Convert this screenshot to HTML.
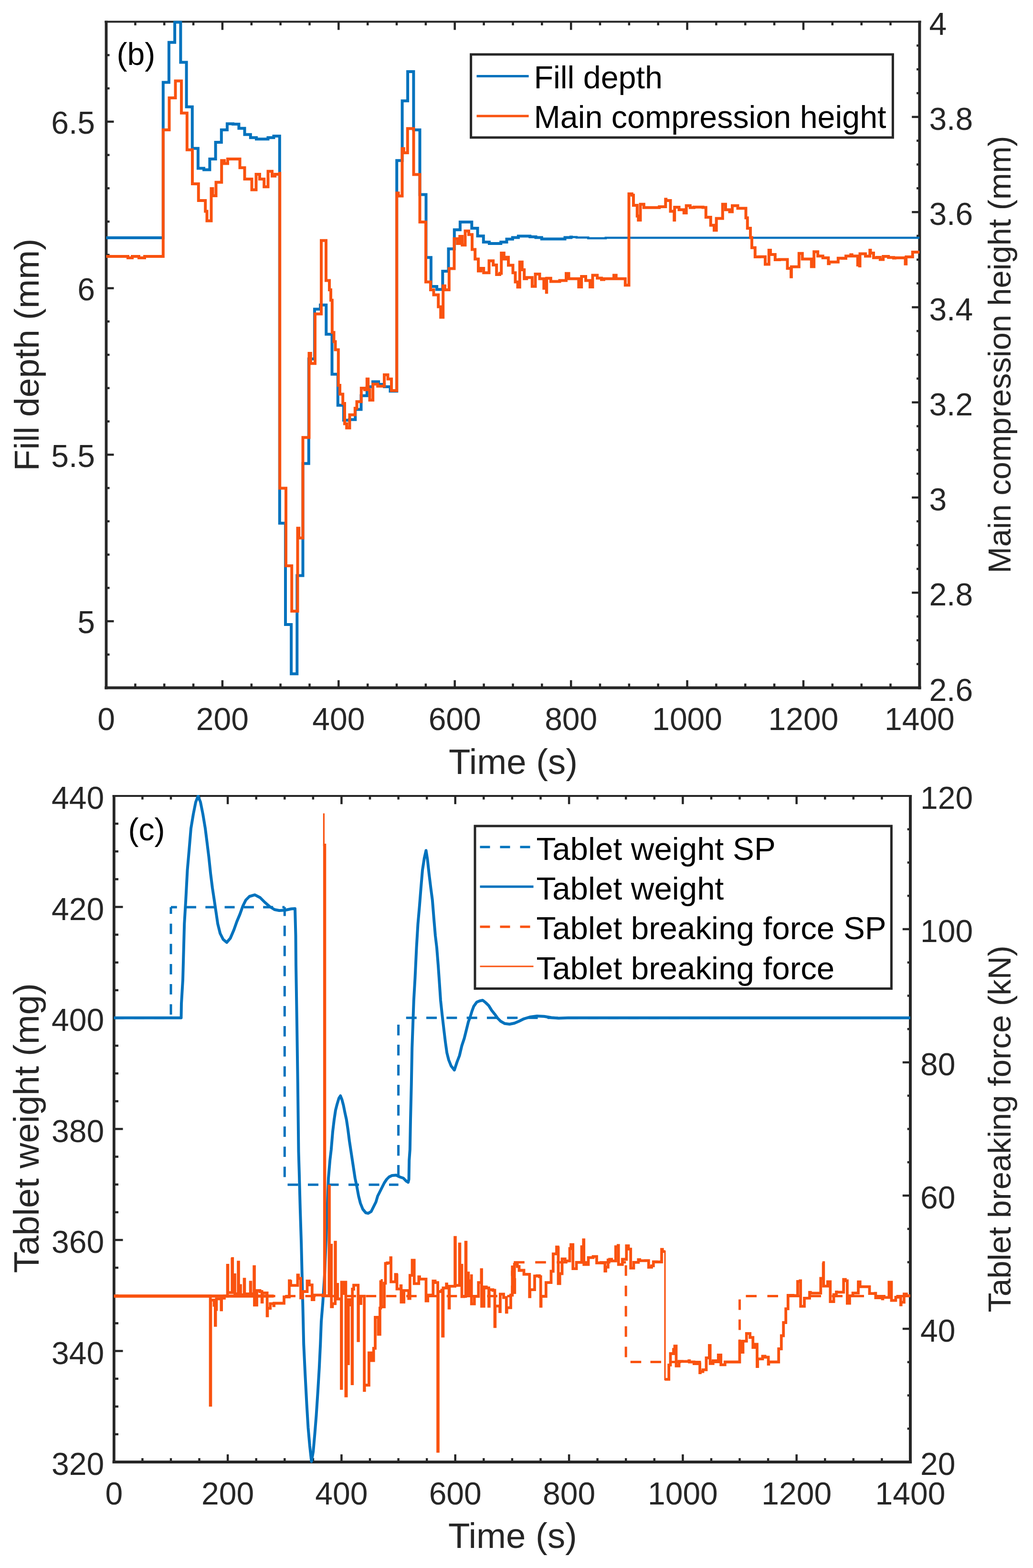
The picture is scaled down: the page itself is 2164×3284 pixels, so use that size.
<!DOCTYPE html>
<html lang="en">
<head>
<meta charset="utf-8">
<title>Fill depth, main compression height, tablet weight and tablet breaking force versus time</title>
<style>
html,body{margin:0;padding:0;background:#ffffff;}
body{width:2164px;height:3284px;overflow:hidden;}
svg{display:block;}
text{white-space:pre;}
</style>
</head>
<body>
<svg width="2164" height="3284" viewBox="0 0 2164 3284" font-family='"Liberation Sans", sans-serif'>
<rect x="0" y="0" width="2164" height="3284" fill="#ffffff"/>
<g id="top-axes">
<line x1="283.4" y1="1440.6" x2="283.4" y2="1431.6" stroke="#262626" stroke-width="4.5" />
<line x1="283.4" y1="45.6" x2="283.4" y2="53.1" stroke="#262626" stroke-width="4.5" />
<line x1="344.2" y1="1440.6" x2="344.2" y2="1431.6" stroke="#262626" stroke-width="4.5" />
<line x1="344.2" y1="45.6" x2="344.2" y2="53.1" stroke="#262626" stroke-width="4.5" />
<line x1="405.1" y1="1440.6" x2="405.1" y2="1431.6" stroke="#262626" stroke-width="4.5" />
<line x1="405.1" y1="45.6" x2="405.1" y2="53.1" stroke="#262626" stroke-width="4.5" />
<line x1="465.9" y1="1440.6" x2="465.9" y2="1424.6" stroke="#262626" stroke-width="4.5" />
<line x1="465.9" y1="45.6" x2="465.9" y2="62.6" stroke="#262626" stroke-width="4.5" />
<line x1="526.8" y1="1440.6" x2="526.8" y2="1431.6" stroke="#262626" stroke-width="4.5" />
<line x1="526.8" y1="45.6" x2="526.8" y2="53.1" stroke="#262626" stroke-width="4.5" />
<line x1="587.6" y1="1440.6" x2="587.6" y2="1431.6" stroke="#262626" stroke-width="4.5" />
<line x1="587.6" y1="45.6" x2="587.6" y2="53.1" stroke="#262626" stroke-width="4.5" />
<line x1="648.5" y1="1440.6" x2="648.5" y2="1431.6" stroke="#262626" stroke-width="4.5" />
<line x1="648.5" y1="45.6" x2="648.5" y2="53.1" stroke="#262626" stroke-width="4.5" />
<line x1="709.3" y1="1440.6" x2="709.3" y2="1424.6" stroke="#262626" stroke-width="4.5" />
<line x1="709.3" y1="45.6" x2="709.3" y2="62.6" stroke="#262626" stroke-width="4.5" />
<line x1="770.2" y1="1440.6" x2="770.2" y2="1431.6" stroke="#262626" stroke-width="4.5" />
<line x1="770.2" y1="45.6" x2="770.2" y2="53.1" stroke="#262626" stroke-width="4.5" />
<line x1="831.0" y1="1440.6" x2="831.0" y2="1431.6" stroke="#262626" stroke-width="4.5" />
<line x1="831.0" y1="45.6" x2="831.0" y2="53.1" stroke="#262626" stroke-width="4.5" />
<line x1="891.9" y1="1440.6" x2="891.9" y2="1431.6" stroke="#262626" stroke-width="4.5" />
<line x1="891.9" y1="45.6" x2="891.9" y2="53.1" stroke="#262626" stroke-width="4.5" />
<line x1="952.7" y1="1440.6" x2="952.7" y2="1424.6" stroke="#262626" stroke-width="4.5" />
<line x1="952.7" y1="45.6" x2="952.7" y2="62.6" stroke="#262626" stroke-width="4.5" />
<line x1="1013.6" y1="1440.6" x2="1013.6" y2="1431.6" stroke="#262626" stroke-width="4.5" />
<line x1="1013.6" y1="45.6" x2="1013.6" y2="53.1" stroke="#262626" stroke-width="4.5" />
<line x1="1074.5" y1="1440.6" x2="1074.5" y2="1431.6" stroke="#262626" stroke-width="4.5" />
<line x1="1074.5" y1="45.6" x2="1074.5" y2="53.1" stroke="#262626" stroke-width="4.5" />
<line x1="1135.3" y1="1440.6" x2="1135.3" y2="1431.6" stroke="#262626" stroke-width="4.5" />
<line x1="1135.3" y1="45.6" x2="1135.3" y2="53.1" stroke="#262626" stroke-width="4.5" />
<line x1="1196.2" y1="1440.6" x2="1196.2" y2="1424.6" stroke="#262626" stroke-width="4.5" />
<line x1="1196.2" y1="45.6" x2="1196.2" y2="62.6" stroke="#262626" stroke-width="4.5" />
<line x1="1257.0" y1="1440.6" x2="1257.0" y2="1431.6" stroke="#262626" stroke-width="4.5" />
<line x1="1257.0" y1="45.6" x2="1257.0" y2="53.1" stroke="#262626" stroke-width="4.5" />
<line x1="1317.9" y1="1440.6" x2="1317.9" y2="1431.6" stroke="#262626" stroke-width="4.5" />
<line x1="1317.9" y1="45.6" x2="1317.9" y2="53.1" stroke="#262626" stroke-width="4.5" />
<line x1="1378.7" y1="1440.6" x2="1378.7" y2="1431.6" stroke="#262626" stroke-width="4.5" />
<line x1="1378.7" y1="45.6" x2="1378.7" y2="53.1" stroke="#262626" stroke-width="4.5" />
<line x1="1439.6" y1="1440.6" x2="1439.6" y2="1424.6" stroke="#262626" stroke-width="4.5" />
<line x1="1439.6" y1="45.6" x2="1439.6" y2="62.6" stroke="#262626" stroke-width="4.5" />
<line x1="1500.4" y1="1440.6" x2="1500.4" y2="1431.6" stroke="#262626" stroke-width="4.5" />
<line x1="1500.4" y1="45.6" x2="1500.4" y2="53.1" stroke="#262626" stroke-width="4.5" />
<line x1="1561.3" y1="1440.6" x2="1561.3" y2="1431.6" stroke="#262626" stroke-width="4.5" />
<line x1="1561.3" y1="45.6" x2="1561.3" y2="53.1" stroke="#262626" stroke-width="4.5" />
<line x1="1622.1" y1="1440.6" x2="1622.1" y2="1431.6" stroke="#262626" stroke-width="4.5" />
<line x1="1622.1" y1="45.6" x2="1622.1" y2="53.1" stroke="#262626" stroke-width="4.5" />
<line x1="1683.0" y1="1440.6" x2="1683.0" y2="1424.6" stroke="#262626" stroke-width="4.5" />
<line x1="1683.0" y1="45.6" x2="1683.0" y2="62.6" stroke="#262626" stroke-width="4.5" />
<line x1="1743.8" y1="1440.6" x2="1743.8" y2="1431.6" stroke="#262626" stroke-width="4.5" />
<line x1="1743.8" y1="45.6" x2="1743.8" y2="53.1" stroke="#262626" stroke-width="4.5" />
<line x1="1804.7" y1="1440.6" x2="1804.7" y2="1431.6" stroke="#262626" stroke-width="4.5" />
<line x1="1804.7" y1="45.6" x2="1804.7" y2="53.1" stroke="#262626" stroke-width="4.5" />
<line x1="1865.5" y1="1440.6" x2="1865.5" y2="1431.6" stroke="#262626" stroke-width="4.5" />
<line x1="1865.5" y1="45.6" x2="1865.5" y2="53.1" stroke="#262626" stroke-width="4.5" />
<text x="222.5" y="1528.6" font-size="66" text-anchor="middle" fill="#262626" >0</text>
<text x="465.9" y="1528.6" font-size="66" text-anchor="middle" fill="#262626" >200</text>
<text x="709.3" y="1528.6" font-size="66" text-anchor="middle" fill="#262626" >400</text>
<text x="952.7" y="1528.6" font-size="66" text-anchor="middle" fill="#262626" >600</text>
<text x="1196.2" y="1528.6" font-size="66" text-anchor="middle" fill="#262626" >800</text>
<text x="1439.6" y="1528.6" font-size="66" text-anchor="middle" fill="#262626" >1000</text>
<text x="1683.0" y="1528.6" font-size="66" text-anchor="middle" fill="#262626" >1200</text>
<text x="1926.4" y="1528.6" font-size="66" text-anchor="middle" fill="#262626" >1400</text>
<line x1="222.5" y1="1370.9" x2="229.5" y2="1370.9" stroke="#262626" stroke-width="4.5" />
<line x1="222.5" y1="1301.1" x2="238.5" y2="1301.1" stroke="#262626" stroke-width="4.5" />
<text x="199.0" y="1326.4" font-size="66" text-anchor="end" fill="#262626" >5</text>
<line x1="222.5" y1="1231.3" x2="229.5" y2="1231.3" stroke="#262626" stroke-width="4.5" />
<line x1="222.5" y1="1161.6" x2="229.5" y2="1161.6" stroke="#262626" stroke-width="4.5" />
<line x1="222.5" y1="1091.8" x2="229.5" y2="1091.8" stroke="#262626" stroke-width="4.5" />
<line x1="222.5" y1="1022.1" x2="229.5" y2="1022.1" stroke="#262626" stroke-width="4.5" />
<line x1="222.5" y1="952.3" x2="238.5" y2="952.3" stroke="#262626" stroke-width="4.5" />
<text x="199.0" y="977.6" font-size="66" text-anchor="end" fill="#262626" >5.5</text>
<line x1="222.5" y1="882.6" x2="229.5" y2="882.6" stroke="#262626" stroke-width="4.5" />
<line x1="222.5" y1="812.8" x2="229.5" y2="812.8" stroke="#262626" stroke-width="4.5" />
<line x1="222.5" y1="743.1" x2="229.5" y2="743.1" stroke="#262626" stroke-width="4.5" />
<line x1="222.5" y1="673.3" x2="229.5" y2="673.3" stroke="#262626" stroke-width="4.5" />
<line x1="222.5" y1="603.6" x2="238.5" y2="603.6" stroke="#262626" stroke-width="4.5" />
<text x="199.0" y="628.9" font-size="66" text-anchor="end" fill="#262626" >6</text>
<line x1="222.5" y1="533.9" x2="229.5" y2="533.9" stroke="#262626" stroke-width="4.5" />
<line x1="222.5" y1="464.1" x2="229.5" y2="464.1" stroke="#262626" stroke-width="4.5" />
<line x1="222.5" y1="394.3" x2="229.5" y2="394.3" stroke="#262626" stroke-width="4.5" />
<line x1="222.5" y1="324.6" x2="229.5" y2="324.6" stroke="#262626" stroke-width="4.5" />
<line x1="222.5" y1="254.8" x2="238.5" y2="254.8" stroke="#262626" stroke-width="4.5" />
<text x="199.0" y="280.1" font-size="66" text-anchor="end" fill="#262626" >6.5</text>
<line x1="222.5" y1="185.1" x2="229.5" y2="185.1" stroke="#262626" stroke-width="4.5" />
<line x1="222.5" y1="115.4" x2="229.5" y2="115.4" stroke="#262626" stroke-width="4.5" />
<text x="1946.4" y="1467.6" font-size="66" text-anchor="start" fill="#262626" >2.6</text>
<line x1="1926.4" y1="1390.8" x2="1920.1" y2="1390.8" stroke="#262626" stroke-width="4.5" />
<line x1="1926.4" y1="1341.0" x2="1920.1" y2="1341.0" stroke="#262626" stroke-width="4.5" />
<line x1="1926.4" y1="1291.1" x2="1920.1" y2="1291.1" stroke="#262626" stroke-width="4.5" />
<line x1="1926.4" y1="1241.3" x2="1910.2" y2="1241.3" stroke="#262626" stroke-width="4.5" />
<text x="1946.4" y="1268.3" font-size="66" text-anchor="start" fill="#262626" >2.8</text>
<line x1="1926.4" y1="1191.5" x2="1920.1" y2="1191.5" stroke="#262626" stroke-width="4.5" />
<line x1="1926.4" y1="1141.7" x2="1920.1" y2="1141.7" stroke="#262626" stroke-width="4.5" />
<line x1="1926.4" y1="1091.8" x2="1920.1" y2="1091.8" stroke="#262626" stroke-width="4.5" />
<line x1="1926.4" y1="1042.0" x2="1910.2" y2="1042.0" stroke="#262626" stroke-width="4.5" />
<text x="1946.4" y="1069.0" font-size="66" text-anchor="start" fill="#262626" >3</text>
<line x1="1926.4" y1="992.2" x2="1920.1" y2="992.2" stroke="#262626" stroke-width="4.5" />
<line x1="1926.4" y1="942.4" x2="1920.1" y2="942.4" stroke="#262626" stroke-width="4.5" />
<line x1="1926.4" y1="892.6" x2="1920.1" y2="892.6" stroke="#262626" stroke-width="4.5" />
<line x1="1926.4" y1="842.7" x2="1910.2" y2="842.7" stroke="#262626" stroke-width="4.5" />
<text x="1946.4" y="869.7" font-size="66" text-anchor="start" fill="#262626" >3.2</text>
<line x1="1926.4" y1="792.9" x2="1920.1" y2="792.9" stroke="#262626" stroke-width="4.5" />
<line x1="1926.4" y1="743.1" x2="1920.1" y2="743.1" stroke="#262626" stroke-width="4.5" />
<line x1="1926.4" y1="693.3" x2="1920.1" y2="693.3" stroke="#262626" stroke-width="4.5" />
<line x1="1926.4" y1="643.5" x2="1910.2" y2="643.5" stroke="#262626" stroke-width="4.5" />
<text x="1946.4" y="670.5" font-size="66" text-anchor="start" fill="#262626" >3.4</text>
<line x1="1926.4" y1="593.6" x2="1920.1" y2="593.6" stroke="#262626" stroke-width="4.5" />
<line x1="1926.4" y1="543.8" x2="1920.1" y2="543.8" stroke="#262626" stroke-width="4.5" />
<line x1="1926.4" y1="494.0" x2="1920.1" y2="494.0" stroke="#262626" stroke-width="4.5" />
<line x1="1926.4" y1="444.2" x2="1910.2" y2="444.2" stroke="#262626" stroke-width="4.5" />
<text x="1946.4" y="471.2" font-size="66" text-anchor="start" fill="#262626" >3.6</text>
<line x1="1926.4" y1="394.3" x2="1920.1" y2="394.3" stroke="#262626" stroke-width="4.5" />
<line x1="1926.4" y1="344.5" x2="1920.1" y2="344.5" stroke="#262626" stroke-width="4.5" />
<line x1="1926.4" y1="294.7" x2="1920.1" y2="294.7" stroke="#262626" stroke-width="4.5" />
<line x1="1926.4" y1="244.9" x2="1910.2" y2="244.9" stroke="#262626" stroke-width="4.5" />
<text x="1946.4" y="271.9" font-size="66" text-anchor="start" fill="#262626" >3.8</text>
<line x1="1926.4" y1="195.1" x2="1920.1" y2="195.1" stroke="#262626" stroke-width="4.5" />
<line x1="1926.4" y1="145.2" x2="1920.1" y2="145.2" stroke="#262626" stroke-width="4.5" />
<line x1="1926.4" y1="95.4" x2="1920.1" y2="95.4" stroke="#262626" stroke-width="4.5" />
<text x="1946.4" y="72.6" font-size="66" text-anchor="start" fill="#262626" >4</text>
<line x1="219.3" y1="45.6" x2="1929.6" y2="45.6" stroke="#262626" stroke-width="4" />
<line x1="219.3" y1="1440.6" x2="1929.6" y2="1440.6" stroke="#262626" stroke-width="6" />
<line x1="222.5" y1="43.6" x2="222.5" y2="1443.6" stroke="#262626" stroke-width="5.8" />
<line x1="1926.4" y1="43.6" x2="1926.4" y2="1443.6" stroke="#262626" stroke-width="6" />
</g>
<g id="bottom-axes">
<line x1="298.4" y1="3062.0" x2="298.4" y2="3054.0" stroke="#262626" stroke-width="4.5" />
<line x1="298.4" y1="1667.0" x2="298.4" y2="1674.5" stroke="#262626" stroke-width="4.5" />
<line x1="358.0" y1="3062.0" x2="358.0" y2="3054.0" stroke="#262626" stroke-width="4.5" />
<line x1="358.0" y1="1667.0" x2="358.0" y2="1674.5" stroke="#262626" stroke-width="4.5" />
<line x1="417.5" y1="3062.0" x2="417.5" y2="3054.0" stroke="#262626" stroke-width="4.5" />
<line x1="417.5" y1="1667.0" x2="417.5" y2="1674.5" stroke="#262626" stroke-width="4.5" />
<line x1="477.1" y1="3062.0" x2="477.1" y2="3046.0" stroke="#262626" stroke-width="4.5" />
<line x1="477.1" y1="1667.0" x2="477.1" y2="1684.2" stroke="#262626" stroke-width="4.5" />
<line x1="536.7" y1="3062.0" x2="536.7" y2="3054.0" stroke="#262626" stroke-width="4.5" />
<line x1="536.7" y1="1667.0" x2="536.7" y2="1674.5" stroke="#262626" stroke-width="4.5" />
<line x1="596.3" y1="3062.0" x2="596.3" y2="3054.0" stroke="#262626" stroke-width="4.5" />
<line x1="596.3" y1="1667.0" x2="596.3" y2="1674.5" stroke="#262626" stroke-width="4.5" />
<line x1="655.9" y1="3062.0" x2="655.9" y2="3054.0" stroke="#262626" stroke-width="4.5" />
<line x1="655.9" y1="1667.0" x2="655.9" y2="1674.5" stroke="#262626" stroke-width="4.5" />
<line x1="715.4" y1="3062.0" x2="715.4" y2="3046.0" stroke="#262626" stroke-width="4.5" />
<line x1="715.4" y1="1667.0" x2="715.4" y2="1684.2" stroke="#262626" stroke-width="4.5" />
<line x1="775.0" y1="3062.0" x2="775.0" y2="3054.0" stroke="#262626" stroke-width="4.5" />
<line x1="775.0" y1="1667.0" x2="775.0" y2="1674.5" stroke="#262626" stroke-width="4.5" />
<line x1="834.6" y1="3062.0" x2="834.6" y2="3054.0" stroke="#262626" stroke-width="4.5" />
<line x1="834.6" y1="1667.0" x2="834.6" y2="1674.5" stroke="#262626" stroke-width="4.5" />
<line x1="894.2" y1="3062.0" x2="894.2" y2="3054.0" stroke="#262626" stroke-width="4.5" />
<line x1="894.2" y1="1667.0" x2="894.2" y2="1674.5" stroke="#262626" stroke-width="4.5" />
<line x1="953.7" y1="3062.0" x2="953.7" y2="3046.0" stroke="#262626" stroke-width="4.5" />
<line x1="953.7" y1="1667.0" x2="953.7" y2="1684.2" stroke="#262626" stroke-width="4.5" />
<line x1="1013.3" y1="3062.0" x2="1013.3" y2="3054.0" stroke="#262626" stroke-width="4.5" />
<line x1="1013.3" y1="1667.0" x2="1013.3" y2="1674.5" stroke="#262626" stroke-width="4.5" />
<line x1="1072.9" y1="3062.0" x2="1072.9" y2="3054.0" stroke="#262626" stroke-width="4.5" />
<line x1="1072.9" y1="1667.0" x2="1072.9" y2="1674.5" stroke="#262626" stroke-width="4.5" />
<line x1="1132.5" y1="3062.0" x2="1132.5" y2="3054.0" stroke="#262626" stroke-width="4.5" />
<line x1="1132.5" y1="1667.0" x2="1132.5" y2="1674.5" stroke="#262626" stroke-width="4.5" />
<line x1="1192.1" y1="3062.0" x2="1192.1" y2="3046.0" stroke="#262626" stroke-width="4.5" />
<line x1="1192.1" y1="1667.0" x2="1192.1" y2="1684.2" stroke="#262626" stroke-width="4.5" />
<line x1="1251.6" y1="3062.0" x2="1251.6" y2="3054.0" stroke="#262626" stroke-width="4.5" />
<line x1="1251.6" y1="1667.0" x2="1251.6" y2="1674.5" stroke="#262626" stroke-width="4.5" />
<line x1="1311.2" y1="3062.0" x2="1311.2" y2="3054.0" stroke="#262626" stroke-width="4.5" />
<line x1="1311.2" y1="1667.0" x2="1311.2" y2="1674.5" stroke="#262626" stroke-width="4.5" />
<line x1="1370.8" y1="3062.0" x2="1370.8" y2="3054.0" stroke="#262626" stroke-width="4.5" />
<line x1="1370.8" y1="1667.0" x2="1370.8" y2="1674.5" stroke="#262626" stroke-width="4.5" />
<line x1="1430.4" y1="3062.0" x2="1430.4" y2="3046.0" stroke="#262626" stroke-width="4.5" />
<line x1="1430.4" y1="1667.0" x2="1430.4" y2="1684.2" stroke="#262626" stroke-width="4.5" />
<line x1="1490.0" y1="3062.0" x2="1490.0" y2="3054.0" stroke="#262626" stroke-width="4.5" />
<line x1="1490.0" y1="1667.0" x2="1490.0" y2="1674.5" stroke="#262626" stroke-width="4.5" />
<line x1="1549.5" y1="3062.0" x2="1549.5" y2="3054.0" stroke="#262626" stroke-width="4.5" />
<line x1="1549.5" y1="1667.0" x2="1549.5" y2="1674.5" stroke="#262626" stroke-width="4.5" />
<line x1="1609.1" y1="3062.0" x2="1609.1" y2="3054.0" stroke="#262626" stroke-width="4.5" />
<line x1="1609.1" y1="1667.0" x2="1609.1" y2="1674.5" stroke="#262626" stroke-width="4.5" />
<line x1="1668.7" y1="3062.0" x2="1668.7" y2="3046.0" stroke="#262626" stroke-width="4.5" />
<line x1="1668.7" y1="1667.0" x2="1668.7" y2="1684.2" stroke="#262626" stroke-width="4.5" />
<line x1="1728.3" y1="3062.0" x2="1728.3" y2="3054.0" stroke="#262626" stroke-width="4.5" />
<line x1="1728.3" y1="1667.0" x2="1728.3" y2="1674.5" stroke="#262626" stroke-width="4.5" />
<line x1="1787.8" y1="3062.0" x2="1787.8" y2="3054.0" stroke="#262626" stroke-width="4.5" />
<line x1="1787.8" y1="1667.0" x2="1787.8" y2="1674.5" stroke="#262626" stroke-width="4.5" />
<line x1="1847.4" y1="3062.0" x2="1847.4" y2="3054.0" stroke="#262626" stroke-width="4.5" />
<line x1="1847.4" y1="1667.0" x2="1847.4" y2="1674.5" stroke="#262626" stroke-width="4.5" />
<text x="238.8" y="3151.0" font-size="66" text-anchor="middle" fill="#262626" >0</text>
<text x="477.1" y="3151.0" font-size="66" text-anchor="middle" fill="#262626" >200</text>
<text x="715.4" y="3151.0" font-size="66" text-anchor="middle" fill="#262626" >400</text>
<text x="953.7" y="3151.0" font-size="66" text-anchor="middle" fill="#262626" >600</text>
<text x="1192.1" y="3151.0" font-size="66" text-anchor="middle" fill="#262626" >800</text>
<text x="1430.4" y="3151.0" font-size="66" text-anchor="middle" fill="#262626" >1000</text>
<text x="1668.7" y="3151.0" font-size="66" text-anchor="middle" fill="#262626" >1200</text>
<text x="1907.0" y="3151.0" font-size="66" text-anchor="middle" fill="#262626" >1400</text>
<text x="218.1" y="3089.0" font-size="66" text-anchor="end" fill="#262626" >320</text>
<line x1="238.8" y1="3003.9" x2="248.0" y2="3003.9" stroke="#262626" stroke-width="4.5" />
<line x1="238.8" y1="2945.8" x2="248.0" y2="2945.8" stroke="#262626" stroke-width="4.5" />
<line x1="238.8" y1="2887.6" x2="248.0" y2="2887.6" stroke="#262626" stroke-width="4.5" />
<line x1="238.8" y1="2829.5" x2="257.5" y2="2829.5" stroke="#262626" stroke-width="4.5" />
<text x="218.1" y="2856.5" font-size="66" text-anchor="end" fill="#262626" >340</text>
<line x1="238.8" y1="2771.4" x2="248.0" y2="2771.4" stroke="#262626" stroke-width="4.5" />
<line x1="238.8" y1="2713.2" x2="248.0" y2="2713.2" stroke="#262626" stroke-width="4.5" />
<line x1="238.8" y1="2655.1" x2="248.0" y2="2655.1" stroke="#262626" stroke-width="4.5" />
<line x1="238.8" y1="2597.0" x2="257.5" y2="2597.0" stroke="#262626" stroke-width="4.5" />
<text x="218.1" y="2624.0" font-size="66" text-anchor="end" fill="#262626" >360</text>
<line x1="238.8" y1="2538.9" x2="248.0" y2="2538.9" stroke="#262626" stroke-width="4.5" />
<line x1="238.8" y1="2480.8" x2="248.0" y2="2480.8" stroke="#262626" stroke-width="4.5" />
<line x1="238.8" y1="2422.6" x2="248.0" y2="2422.6" stroke="#262626" stroke-width="4.5" />
<line x1="238.8" y1="2364.5" x2="257.5" y2="2364.5" stroke="#262626" stroke-width="4.5" />
<text x="218.1" y="2391.5" font-size="66" text-anchor="end" fill="#262626" >380</text>
<line x1="238.8" y1="2306.4" x2="248.0" y2="2306.4" stroke="#262626" stroke-width="4.5" />
<line x1="238.8" y1="2248.2" x2="248.0" y2="2248.2" stroke="#262626" stroke-width="4.5" />
<line x1="238.8" y1="2190.1" x2="248.0" y2="2190.1" stroke="#262626" stroke-width="4.5" />
<line x1="238.8" y1="2132.0" x2="257.5" y2="2132.0" stroke="#262626" stroke-width="4.5" />
<text x="218.1" y="2159.0" font-size="66" text-anchor="end" fill="#262626" >400</text>
<line x1="238.8" y1="2073.9" x2="248.0" y2="2073.9" stroke="#262626" stroke-width="4.5" />
<line x1="238.8" y1="2015.8" x2="248.0" y2="2015.8" stroke="#262626" stroke-width="4.5" />
<line x1="238.8" y1="1957.6" x2="248.0" y2="1957.6" stroke="#262626" stroke-width="4.5" />
<line x1="238.8" y1="1899.5" x2="257.5" y2="1899.5" stroke="#262626" stroke-width="4.5" />
<text x="218.1" y="1926.5" font-size="66" text-anchor="end" fill="#262626" >420</text>
<line x1="238.8" y1="1841.4" x2="248.0" y2="1841.4" stroke="#262626" stroke-width="4.5" />
<line x1="238.8" y1="1783.2" x2="248.0" y2="1783.2" stroke="#262626" stroke-width="4.5" />
<line x1="238.8" y1="1725.1" x2="248.0" y2="1725.1" stroke="#262626" stroke-width="4.5" />
<text x="218.1" y="1694.0" font-size="66" text-anchor="end" fill="#262626" >440</text>
<text x="1928.0" y="3089.0" font-size="66" text-anchor="start" fill="#262626" >20</text>
<line x1="1907.0" y1="2992.2" x2="1900.7" y2="2992.2" stroke="#262626" stroke-width="4.5" />
<line x1="1907.0" y1="2922.5" x2="1900.7" y2="2922.5" stroke="#262626" stroke-width="4.5" />
<line x1="1907.0" y1="2852.8" x2="1900.7" y2="2852.8" stroke="#262626" stroke-width="4.5" />
<line x1="1907.0" y1="2783.0" x2="1890.8" y2="2783.0" stroke="#262626" stroke-width="4.5" />
<text x="1928.0" y="2810.0" font-size="66" text-anchor="start" fill="#262626" >40</text>
<line x1="1907.0" y1="2713.2" x2="1900.7" y2="2713.2" stroke="#262626" stroke-width="4.5" />
<line x1="1907.0" y1="2643.5" x2="1900.7" y2="2643.5" stroke="#262626" stroke-width="4.5" />
<line x1="1907.0" y1="2573.8" x2="1900.7" y2="2573.8" stroke="#262626" stroke-width="4.5" />
<line x1="1907.0" y1="2504.0" x2="1890.8" y2="2504.0" stroke="#262626" stroke-width="4.5" />
<text x="1928.0" y="2531.0" font-size="66" text-anchor="start" fill="#262626" >60</text>
<line x1="1907.0" y1="2434.2" x2="1900.7" y2="2434.2" stroke="#262626" stroke-width="4.5" />
<line x1="1907.0" y1="2364.5" x2="1900.7" y2="2364.5" stroke="#262626" stroke-width="4.5" />
<line x1="1907.0" y1="2294.8" x2="1900.7" y2="2294.8" stroke="#262626" stroke-width="4.5" />
<line x1="1907.0" y1="2225.0" x2="1890.8" y2="2225.0" stroke="#262626" stroke-width="4.5" />
<text x="1928.0" y="2252.0" font-size="66" text-anchor="start" fill="#262626" >80</text>
<line x1="1907.0" y1="2155.2" x2="1900.7" y2="2155.2" stroke="#262626" stroke-width="4.5" />
<line x1="1907.0" y1="2085.5" x2="1900.7" y2="2085.5" stroke="#262626" stroke-width="4.5" />
<line x1="1907.0" y1="2015.8" x2="1900.7" y2="2015.8" stroke="#262626" stroke-width="4.5" />
<line x1="1907.0" y1="1946.0" x2="1890.8" y2="1946.0" stroke="#262626" stroke-width="4.5" />
<text x="1928.0" y="1973.0" font-size="66" text-anchor="start" fill="#262626" >100</text>
<line x1="1907.0" y1="1876.2" x2="1900.7" y2="1876.2" stroke="#262626" stroke-width="4.5" />
<line x1="1907.0" y1="1806.5" x2="1900.7" y2="1806.5" stroke="#262626" stroke-width="4.5" />
<line x1="1907.0" y1="1736.8" x2="1900.7" y2="1736.8" stroke="#262626" stroke-width="4.5" />
<text x="1928.0" y="1694.0" font-size="66" text-anchor="start" fill="#262626" >120</text>
<line x1="235.6" y1="1667.0" x2="1910.2" y2="1667.0" stroke="#262626" stroke-width="4" />
<line x1="235.6" y1="3062.0" x2="1910.2" y2="3062.0" stroke="#262626" stroke-width="6" />
<line x1="238.8" y1="1665.0" x2="238.8" y2="3065.0" stroke="#262626" stroke-width="5.8" />
<line x1="1907.0" y1="1665.0" x2="1907.0" y2="3065.0" stroke="#262626" stroke-width="6" />
</g>
<clipPath id="clipT"><rect x="220.5" y="43.6" width="1705.9" height="1399.0"/></clipPath>
<g id="top-curves" clip-path="url(#clipT)">
<path d="M1200.0,496.5 L1207.9,496.5 L1207.9,497.5 L1220.2,497.5 L1220.2,497.5 L1232.3,497.5 L1232.3,499.0 L1244.5,499.0 L1244.5,499.0 L1256.8,499.0 L1256.8,499.0 L1268.9,499.0 L1268.9,498.0 L1926.4,498.0" fill="none" stroke="#0072BD" stroke-width="4.6" stroke-linejoin="miter" />
<path d="M222.5,498.0 L341.8,498.0 L341.8,172.5 L353.9,172.5 L353.9,88.8 L366.1,88.8 L366.1,46.5 L378.4,46.5 L378.4,130.5 L390.6,130.5 L390.6,223.8 L402.8,223.8 L402.8,310.8 L414.9,310.8 L414.9,352.5 L427.1,352.5 L427.1,355.5 L439.4,355.5 L439.4,333.0 L451.6,333.0 L451.6,298.0 L463.8,298.0 L463.8,272.0 L475.9,272.0 L475.9,259.2 L488.1,259.2 L488.1,260.0 L500.4,260.0 L500.4,268.8 L512.5,268.8 L512.5,281.8 L524.8,281.8 L524.8,288.2 L537.0,288.2 L537.0,291.2 L549.1,291.2 L549.1,291.2 L561.4,291.2 L561.4,288.2 L573.5,288.2 L573.5,285.0 L585.8,285.0 L585.8,1095.8 L598.0,1095.8 L598.0,1308.0 L610.1,1308.0 L610.1,1411.2 L622.3,1411.2 L622.3,1205.5 L634.5,1205.5 L634.5,970.8 L646.8,970.8 L646.8,751.8 L659.0,751.8 L659.0,647.5 L671.1,647.5 L671.1,638.8 L683.3,638.8 L683.3,700.0 L695.5,700.0 L695.5,783.8 L707.8,783.8 L707.8,848.8 L720.0,848.8 L720.0,880.0 L732.1,880.0 L732.1,878.8 L744.3,878.8 L744.3,857.5 L756.5,857.5 L756.5,828.8 L768.8,828.8 L768.8,810.0 L781.0,810.0 L781.0,799.5 L793.1,799.5 L793.1,805.0 L805.3,805.0 L805.3,810.0 L817.5,810.0 L817.5,819.2 L831.2,819.2 L831.2,336.2 L842.6,336.2 L842.6,211.2 L854.1,211.2 L854.1,150.0 L866.4,150.0 L866.4,272.0 L879.5,272.0 L879.5,407.5 L892.5,407.5 L892.5,539.2 L902.9,539.2 L902.9,600.0 L915.1,600.0 L915.1,606.2 L927.3,606.2 L927.3,568.0 L939.5,568.0 L939.5,521.2 L951.8,521.2 L951.8,481.2 L963.9,481.2 L963.9,465.0 L976.1,465.0 L976.1,465.0 L988.3,465.0 L988.3,478.0 L1000.5,478.0 L1000.5,494.2 L1012.8,494.2 L1012.8,507.0 L1024.9,507.0 L1024.9,510.0 L1037.2,510.0 L1037.2,510.0 L1049.3,510.0 L1049.3,507.0 L1061.5,507.0 L1061.5,500.8 L1073.8,500.8 L1073.8,497.5 L1085.9,497.5 L1085.9,494.5 L1098.2,494.5 L1098.2,494.5 L1110.3,494.5 L1110.3,496.0 L1122.5,496.0 L1122.5,497.5 L1134.8,497.5 L1134.8,500.5 L1146.9,500.5 L1146.9,500.5 L1159.2,500.5 L1159.2,500.5 L1171.3,500.5 L1171.3,500.5 L1183.5,500.5 L1183.5,497.5 L1195.8,497.5 L1195.8,496.5 L1200.0,496.5" fill="none" stroke="#0072BD" stroke-width="6.0" stroke-linejoin="miter" />
<path d="M222.5,537.0 L268.0,537.0 L268.0,540.0 L277.0,540.0 L277.0,537.0 L291.0,537.0 L291.0,540.0 L303.0,540.0 L303.0,537.0 L341.8,537.0 L341.8,272.0 L354.5,272.0 L354.5,205.0 L367.5,205.0 L367.5,169.5 L380.0,169.5 L380.0,236.8 L391.8,236.8 L391.8,313.8 L403.0,313.8 L403.0,385.0 L415.8,385.0 L415.8,420.0 L430.2,420.0 L430.2,442.5 L433.5,442.5 L433.5,462.5 L442.5,462.5 L442.5,395.0 L445.5,395.0 L445.5,410.0 L452.5,410.0 L452.5,381.8 L464.2,381.8 L464.2,336.2 L470.0,336.2 L470.0,342.5 L477.0,342.5 L477.0,333.0 L502.5,333.0 L502.5,351.2 L512.5,351.2 L512.5,375.0 L527.5,375.0 L527.5,397.5 L536.5,397.5 L536.5,365.0 L544.0,365.0 L544.0,375.0 L553.2,375.0 L553.2,391.2 L561.5,391.2 L561.5,358.8 L570.0,358.8 L570.0,368.8 L576.2,368.8 L576.2,365.0 L586.2,365.0 L586.2,360.0 L586.2,1022.5 L599.0,1022.5 L599.0,1185.0 L611.2,1185.0 L611.2,1280.0 L623.5,1280.0 L623.5,1106.2 L626.2,1106.2 L626.2,1126.8 L634.5,1126.8 L634.5,916.2 L647.5,916.2 L647.5,740.0 L647.5,740.0 L650.8,740.0 L650.8,761.2 L660.0,761.2 L660.0,657.5 L673.0,657.5 L673.0,503.8 L683.0,503.8 L683.0,587.5 L690.0,587.5 L690.0,607.0 L693.0,607.0 L693.0,628.8 L695.8,628.8 L695.8,696.2 L699.5,696.2 L699.5,715.5 L702.5,715.5 L702.5,732.5 L708.8,732.5 L708.8,732.5 L708.8,807.0 L712.0,807.0 L712.0,825.5 L718.2,825.5 L718.2,845.0 L722.0,845.0 L722.0,887.5 L726.2,887.5 L726.2,896.2 L732.5,896.2 L732.5,868.8 L743.8,868.8 L743.8,855.0 L747.5,855.0 L747.5,841.2 L756.8,841.2 L756.8,813.0 L763.8,813.0 L763.8,816.2 L768.8,816.2 L768.8,793.8 L771.2,793.8 L771.2,816.2 L774.5,816.2 L774.5,838.0 L781.2,838.0 L781.2,804.5 L791.2,804.5 L791.2,808.8 L805.0,808.8 L805.0,785.0 L812.5,785.0 L812.5,793.8 L820.0,793.8 L820.0,818.0 L831.2,818.0 L831.2,404.2 L834.5,404.2 L834.5,410.5 L842.5,410.5 L842.5,311.2 L845.8,311.2 L845.8,320.0 L853.8,320.0 L853.8,269.2 L866.5,269.2 L866.5,365.5 L879.5,365.5 L879.5,465.0 L892.0,465.0 L892.0,590.5 L902.0,590.5 L902.0,607.0 L908.5,607.0 L908.5,617.5 L918.2,617.5 L918.2,642.5 L923.2,642.5 L923.2,664.5 L928.2,664.5 L928.2,598.8 L932.0,598.8 L932.0,607.0 L940.8,607.0 L940.8,562.5 L951.5,562.5 L951.5,500.0 L958.2,500.0 L958.2,510.0 L963.2,510.0 L963.2,495.0 L968.2,495.0 L968.2,513.2 L974.5,513.2 L974.5,483.8 L982.0,483.8 L982.0,491.2 L989.0,491.2 L989.0,522.5 L995.2,522.5 L995.2,542.5 L1002.0,542.5 L1002.0,567.5 L1007.0,567.5 L1007.0,562.0 L1013.2,562.0 L1013.2,571.2 L1024.5,571.2 L1024.5,546.2 L1033.2,546.2 L1033.2,555.0 L1040.2,555.0 L1040.2,575.0 L1047.0,575.0 L1047.0,572.5 L1050.2,572.5 L1050.2,530.0 L1055.8,530.0 L1055.8,542.5 L1060.2,542.5 L1060.2,538.8 L1065.0,538.8 L1065.0,555.5 L1074.5,555.5 L1074.5,571.2 L1079.5,571.2 L1079.5,590.5 L1084.5,590.5 L1084.5,601.2 L1088.8,601.2 L1088.8,548.8 L1093.8,548.8 L1093.8,565.0 L1098.2,565.0 L1098.2,583.8 L1103.2,583.8 L1103.2,581.2 L1112.5,581.2 L1114.8,581.2 L1114.8,599.7 L1121.5,599.7 L1121.5,574.0 L1130.5,574.0 L1130.5,583.8 L1139.3,583.8 L1139.3,603.8 L1144.8,603.8 L1144.8,612.2 L1145.2,612.2 L1145.2,582.8 L1153.8,582.8 L1153.8,589.6 L1172.5,589.6 L1172.5,587.5 L1186.0,587.5 L1186.0,572.8 L1191.5,572.8 L1191.5,583.8 L1212.3,583.8 L1212.3,601.0 L1218.2,601.0 L1218.2,579.0 L1227.0,579.0 L1227.0,587.5 L1236.0,587.5 L1236.0,601.0 L1241.5,601.0 L1241.5,576.5 L1251.2,576.5 L1251.2,582.5 L1260.0,582.5 L1260.0,585.5 L1265.0,585.5 L1265.0,583.8 L1286.0,583.8 L1286.0,576.5 L1290.7,576.5 L1290.7,583.8 L1309.8,583.8 L1309.8,597.2 L1317.5,597.2 L1317.5,406.0 L1323.8,406.0 L1323.8,408.8 L1327.0,408.8 L1327.0,430.0 L1334.8,430.0 L1334.8,452.5 L1337.3,452.5 L1337.3,460.9 L1341.5,460.9 L1341.5,427.8 L1348.8,427.8 L1348.8,434.8 L1381.2,434.8 L1381.2,433.0 L1394.3,433.0 L1394.3,417.2 L1395.2,417.2 L1395.2,420.0 L1404.5,420.0 L1404.5,442.5 L1412.3,442.5 L1412.3,460.9 L1413.2,460.9 L1413.2,434.1 L1422.5,434.1 L1422.5,439.2 L1432.8,439.2 L1432.8,445.9 L1437.7,445.9 L1437.7,430.8 L1445.8,430.8 L1445.8,434.8 L1453.8,434.8 L1453.8,433.7 L1472.5,433.7 L1472.5,434.5 L1478.8,434.5 L1478.8,434.5 L1478.8,455.0 L1488.8,455.0 L1488.8,471.8 L1496.0,471.8 L1496.0,482.2 L1500.7,482.2 L1500.7,457.5 L1513.8,457.5 L1513.8,427.8 L1520.0,427.8 L1520.0,439.2 L1528.5,439.2 L1528.5,443.4 L1534.0,443.4 L1534.0,430.8 L1545.5,430.8 L1545.5,436.2 L1562.5,436.2 L1562.5,456.2 L1565.8,456.2 L1565.8,478.0 L1572.0,478.0 L1572.0,497.5 L1575.0,497.5 L1575.0,518.8 L1581.8,518.8 L1581.8,538.0 L1591.2,538.0 L1591.2,537.7 L1603.0,537.7 L1603.0,553.5 L1610.8,553.5 L1610.8,524.0 L1614.0,524.0 L1614.0,533.0 L1623.8,533.0 L1623.8,543.9 L1633.0,543.9 L1633.0,543.6 L1649.5,543.6 L1649.5,562.0 L1657.1,562.0 L1657.1,579.7 L1657.9,579.7 L1657.9,558.8 L1673.8,558.8 L1673.8,530.8 L1680.8,530.8 L1680.8,542.5 L1699.8,542.5 L1699.8,558.5 L1705.2,558.5 L1705.2,527.3 L1713.2,527.3 L1713.2,536.2 L1723.8,536.2 L1723.8,540.0 L1735.3,540.0 L1735.3,552.2 L1737.0,552.2 L1737.0,548.8 L1755.8,548.8 L1755.8,540.7 L1765.0,540.7 L1765.0,541.0 L1772.0,541.0 L1772.0,536.2 L1782.3,536.2 L1782.3,533.5 L1784.7,533.5 L1784.7,536.2 L1796.8,536.2 L1796.8,555.0 L1800.8,555.0 L1800.8,557.1 L1801.5,557.1 L1801.5,531.5 L1813.0,531.5 L1813.0,536.5 L1822.3,536.5 L1822.3,524.0 L1823.5,524.0 L1823.5,530.0 L1830.0,530.0 L1830.0,539.7 L1837.3,539.7 L1837.3,539.0 L1843.8,539.0 L1843.8,543.5 L1850.2,543.5 L1850.2,536.9 L1861.2,536.9 L1861.2,539.2 L1872.0,539.2 L1872.0,540.4 L1875.0,540.4 L1875.0,539.9 L1896.5,539.9 L1896.5,552.7 L1898.2,552.7 L1898.2,538.0 L1911.8,538.0 L1911.8,528.0 L1926.5,528.0" fill="none" stroke="#F9520F" stroke-width="6.0" stroke-linejoin="miter" />
</g>
<rect x="986.6" y="114" width="883.8000000000001" height="174" fill="#ffffff" stroke="#262626" stroke-width="5"/>
<line x1="998.5" y1="159.5" x2="1107.6" y2="159.5" stroke="#0072BD" stroke-width="5"/>
<text x="1118.5" y="185" font-size="66.4" fill="#000000">Fill depth</text>
<line x1="998.5" y1="243" x2="1107.6" y2="243" stroke="#F9520F" stroke-width="5"/>
<text x="1118.5" y="268" font-size="66.4" fill="#000000">Main compression height</text>
<text x="244.5" y="135.7" font-size="66" fill="#000000">(b)</text>
<clipPath id="clipB"><rect x="236.8" y="1665.0" width="1670.2" height="1399.0"/></clipPath>
<g id="bottom-curves" clip-path="url(#clipB)">
<line x1="238.8" y1="2131.8" x2="358.0" y2="2131.8" stroke="#0072BD" stroke-width="5" stroke-dasharray="21.5 20.50" stroke-dashoffset="0.00"/>
<line x1="358.0" y1="2131.8" x2="358.0" y2="1900.0" stroke="#0072BD" stroke-width="5" stroke-dasharray="21.75 20.45" stroke-dashoffset="35.45"/>
<line x1="358.0" y1="1900.0" x2="596.3" y2="1900.0" stroke="#0072BD" stroke-width="5" stroke-dasharray="21 19.30" stroke-dashoffset="8.30"/>
<line x1="596.3" y1="1900.0" x2="596.3" y2="2481.2" stroke="#0072BD" stroke-width="5" stroke-dasharray="21.7 20.36" stroke-dashoffset="3.31"/>
<line x1="596.3" y1="2481.2" x2="834.6" y2="2481.2" stroke="#0072BD" stroke-width="5" stroke-dasharray="22 20.50" stroke-dashoffset="36.30"/>
<line x1="834.6" y1="2481.2" x2="834.6" y2="2131.8" stroke="#0072BD" stroke-width="5" stroke-dasharray="22.5 19.50" stroke-dashoffset="23.25"/>
<line x1="834.6" y1="2131.8" x2="1907.0" y2="2131.8" stroke="#0072BD" stroke-width="5" stroke-dasharray="22 20.30" stroke-dashoffset="26.15"/>
<path d="M238.8,2131.8 L379.5,2131.8 L380.0,2102.0 L383.0,2052.0 L386.2,1935.0 L389.2,1885.0 L392.5,1822.5 L396.2,1780.0 L400.0,1735.0 L405.0,1705.0 L410.0,1680.0 L415.0,1667.0 L420.0,1680.0 L425.0,1705.0 L430.0,1735.0 L433.8,1765.0 L437.5,1795.0 L441.2,1830.0 L445.0,1860.0 L448.8,1885.0 L452.5,1910.0 L456.2,1935.0 L461.2,1955.0 L467.5,1967.5 L475.0,1973.8 L482.5,1965.0 L490.0,1947.5 L496.2,1930.0 L502.5,1915.0 L508.8,1897.5 L515.0,1885.0 L522.5,1877.5 L533.8,1874.2 L545.0,1880.0 L555.0,1890.0 L565.0,1898.8 L575.0,1905.0 L585.0,1907.0 L597.5,1906.2 L610.0,1903.5 L618.0,1903.0 L619.5,1960.0 L620.0,2020.0 L622.0,2145.0 L623.8,2270.0 L625.5,2412.0 L626.8,2455.0 L628.8,2530.0 L631.2,2605.0 L633.0,2680.0 L634.5,2740.0 L636.2,2815.0 L639.2,2877.5 L642.5,2940.0 L645.5,2990.0 L648.8,3027.5 L652.5,3061.0 L656.2,3040.0 L659.5,3002.5 L662.5,2965.0 L665.8,2915.0 L668.8,2865.0 L671.2,2815.0 L673.0,2768.0 L676.2,2729.0 L680.0,2670.0 L684.5,2560.0 L688.0,2467.5 L691.2,2430.0 L693.8,2408.0 L697.0,2370.0 L700.0,2345.0 L703.0,2325.0 L706.2,2312.5 L710.0,2300.0 L713.2,2295.0 L716.2,2302.5 L719.5,2315.0 L722.5,2330.0 L725.8,2345.0 L728.8,2365.0 L732.0,2390.0 L736.2,2417.5 L740.0,2442.5 L743.8,2467.5 L747.5,2485.0 L751.2,2505.0 L755.0,2520.0 L760.0,2532.5 L766.2,2540.0 L771.2,2541.2 L777.5,2537.5 L782.5,2527.5 L787.5,2517.5 L791.2,2505.0 L795.0,2497.5 L800.0,2487.5 L805.0,2477.5 L810.0,2470.0 L815.0,2465.0 L821.2,2462.0 L830.0,2461.2 L837.5,2465.0 L845.0,2467.5 L851.2,2473.8 L855.0,2476.2 L856.5,2470.0 L857.2,2430.0 L858.8,2408.0 L860.0,2345.0 L861.8,2270.0 L863.2,2195.0 L865.0,2145.0 L866.8,2095.0 L869.5,2048.0 L872.5,1985.0 L875.5,1935.0 L878.8,1897.5 L881.8,1860.0 L885.0,1822.5 L888.8,1797.5 L892.5,1781.2 L895.5,1800.0 L898.8,1830.0 L902.5,1860.0 L905.8,1885.0 L908.8,1922.5 L912.0,1960.0 L915.0,1985.0 L918.0,2022.5 L920.3,2055.0 L923.0,2095.0 L926.2,2125.0 L930.0,2157.5 L933.0,2182.5 L936.2,2205.0 L940.0,2220.0 L945.0,2232.5 L951.8,2241.2 L957.5,2224.0 L962.5,2211.0 L967.5,2190.0 L972.5,2175.0 L977.5,2155.0 L981.2,2140.0 L985.0,2130.0 L988.8,2117.5 L992.5,2107.5 L998.8,2098.8 L1005.0,2096.2 L1011.2,2095.0 L1017.5,2100.0 L1023.8,2106.2 L1030.0,2116.2 L1036.2,2123.8 L1042.5,2132.5 L1048.8,2138.8 L1057.5,2143.8 L1067.5,2145.0 L1077.5,2143.0 L1087.5,2138.8 L1097.5,2133.8 L1110.0,2130.0 L1125.0,2128.0 L1140.0,2128.8 L1155.0,2131.2 L1170.0,2132.5 L1190.0,2131.8 L1907.0,2131.8" fill="none" stroke="#0072BD" stroke-width="6.0" stroke-linejoin="round" />
<line x1="238.8" y1="2714.4" x2="1072.9" y2="2714.4" stroke="#F9520F" stroke-width="5" stroke-dasharray="21.7 20.60" stroke-dashoffset="22.25"/>
<line x1="1072.9" y1="2714.4" x2="1072.9" y2="2643.8" stroke="#F9520F" stroke-width="5" stroke-dasharray="22 20.00" stroke-dashoffset="0.00"/>
<line x1="1072.9" y1="2643.8" x2="1311.2" y2="2643.8" stroke="#F9520F" stroke-width="5" stroke-dasharray="22.5 22.50" stroke-dashoffset="41.65"/>
<line x1="1311.2" y1="2643.8" x2="1311.2" y2="2852.5" stroke="#F9520F" stroke-width="5" stroke-dasharray="22 20.60" stroke-dashoffset="36.35"/>
<line x1="1311.2" y1="2852.5" x2="1549.5" y2="2852.5" stroke="#F9520F" stroke-width="5" stroke-dasharray="22.5 19.25" stroke-dashoffset="32.20"/>
<line x1="1549.5" y1="2852.5" x2="1549.5" y2="2714.4" stroke="#F9520F" stroke-width="5" stroke-dasharray="22 20.00" stroke-dashoffset="17.00"/>
<line x1="1549.5" y1="2714.4" x2="1907.0" y2="2714.4" stroke="#F9520F" stroke-width="5" stroke-dasharray="22.5 22.50" stroke-dashoffset="32.00"/>
<line x1="238.8" y1="2714.4" x2="573.5" y2="2714.4" stroke="#F9520F" stroke-width="6.5"/>
<path d="M238.8,2714.5 L440.6,2714.5 L440.6,2943.2 L441.4,2943.2 L441.4,2722.8 L448.6,2722.8 L448.6,2733.8 L450.9,2733.8 L450.9,2775.9 L451.6,2775.9 L451.6,2742.5 L453.4,2742.5 L453.4,2720.3 L463.4,2720.3 L463.4,2743.4 L464.1,2743.4 L464.1,2718.8 L470.0,2718.8 L470.0,2714.5 L476.6,2714.5 L476.6,2649.8 L477.4,2649.8 L477.4,2707.2 L486.3,2707.2 L486.3,2637.5 L487.0,2637.5 L487.0,2635.8 L487.2,2635.8 L487.2,2670.0 L492.0,2670.0 L492.0,2709.7 L499.1,2709.7 L499.1,2643.3 L499.9,2643.3 L499.9,2692.5 L504.0,2692.5 L504.0,2711.7 L511.6,2711.7 L511.6,2679.1 L512.4,2679.1 L512.4,2710.0 L520.0,2710.0 L520.0,2712.5 L524.6,2712.5 L524.6,2685.3 L525.4,2685.3 L525.4,2709.7 L532.2,2709.7 L532.2,2652.8 L533.0,2652.8 L533.0,2733.4 L538.0,2733.4 L538.0,2702.9 L544.5,2702.9 L544.5,2705.0 L548.7,2705.0 L548.7,2727.2 L549.5,2727.2 L549.5,2707.8 L559.6,2707.8 L559.6,2755.9 L560.4,2755.9 L560.4,2740.0 L566.2,2740.0 L566.2,2730.3 L573.4,2730.3 L573.4,2734.7 L574.1,2734.7 L574.1,2729.5 L575.0,2729.5 L595.0,2729.5 L595.0,2716.1 L598.8,2716.1 L598.8,2716.4 L606.0,2716.4 L606.0,2682.4 L607.5,2682.4 L607.5,2683.8 L609.0,2683.8 L609.0,2692.2 L623.5,2692.2 L623.5,2670.3 L625.2,2670.3 L625.2,2677.5 L630.0,2677.5 L630.0,2718.4 L633.8,2718.4 L633.8,2705.0 L643.5,2705.0 L643.5,2682.8 L647.7,2682.8 L647.7,2691.2 L653.8,2691.2 L653.8,2722.2 L657.5,2722.2 L657.5,2712.4 L676.2,2712.4 L676.2,2713.8 L676.2,2714.0 L679.8,2714.0 L679.8,1770.0 L680.4,1770.0 L680.4,2714.0 L689.4,2714.0 L689.4,2484.2 L690.0,2484.2 L690.0,2714.0 L693.6,2714.0 L693.6,2607.9 L694.2,2607.9 L694.2,2736.8 L696.4,2736.8 L696.4,2730.4 L702.2,2730.4 L702.2,2601.6 L702.8,2601.6 L702.8,2690.0 L707.2,2690.0 L707.2,2720.5 L715.0,2720.5 L715.0,2907.8 L715.6,2907.8 L715.6,2685.4 L720.0,2685.4 L720.0,2709.0 L720.6,2709.0 L720.6,2685.4 L724.4,2685.4 L724.4,2923.6 L725.6,2923.6 L725.6,2735.0 L729.3,2735.0 L729.3,2856.0 L729.9,2856.0 L729.9,2722.0 L733.7,2722.0 L733.7,2733.0 L737.6,2733.0 L737.6,2898.0 L738.2,2898.0 L738.2,2700.0 L741.0,2700.0 L741.0,2691.6 L750.3,2691.6 L750.3,2807.8 L750.9,2807.8 L750.9,2714.6 L754.5,2714.6 L754.5,2730.0 L756.0,2730.0 L756.0,2714.6 L763.1,2714.6 L763.1,2912.0 L763.7,2912.0 L763.7,2901.0 L772.9,2901.0 L772.9,2833.3 L777.8,2833.3 L777.8,2849.5 L782.7,2849.5 L782.7,2823.8 L786.0,2823.8 L786.0,2759.0 L792.5,2759.0 L792.5,2794.7 L795.9,2794.7 L795.9,2739.7 L797.5,2739.7 L797.5,2681.6 L797.5,2681.8 L799.0,2681.8 L799.0,2737.2 L805.0,2737.2 L805.0,2687.5 L807.5,2687.5 L807.5,2646.2 L811.2,2646.2 L811.2,2645.0 L818.4,2645.0 L818.4,2634.1 L819.1,2634.1 L819.1,2684.7 L828.5,2684.7 L828.5,2669.2 L830.8,2669.2 L830.8,2671.2 L831.5,2671.2 L831.5,2699.7 L839.6,2699.7 L839.6,2692.8 L840.4,2692.8 L840.4,2727.2 L846.2,2727.2 L846.2,2702.8 L856.2,2702.8 L856.2,2719.7 L858.8,2719.7 L858.8,2671.2 L863.5,2671.2 L863.5,2639.3 L867.5,2639.3 L867.5,2640.0 L867.7,2640.0 L867.7,2688.4 L877.3,2688.4 L877.3,2674.1 L879.0,2674.1 L879.0,2678.8 L892.5,2678.8 L892.5,2724.7 L896.2,2724.7 L896.2,2712.5 L907.3,2712.5 L907.3,2682.8 L911.5,2682.8 L911.5,2686.2 L917.1,2686.2 L917.1,3039.7 L917.9,3039.7 L917.9,2705.0 L925.4,2705.0 L925.4,2702.2 L927.2,2702.2 L927.2,2798.4 L928.4,2798.4 L928.4,2697.5 L935.2,2697.5 L935.2,2689.1 L936.0,2689.1 L936.0,2695.0 L940.6,2695.0 L940.6,2739.7 L941.4,2739.7 L941.4,2693.8 L953.1,2693.8 L953.1,2591.6 L953.9,2591.6 L953.9,2692.2 L962.6,2692.2 L962.6,2605.3 L963.4,2605.3 L963.4,2650.0 L967.5,2650.0 L967.5,2715.7 L972.0,2715.7 L972.0,2715.0 L975.6,2715.0 L975.6,2601.6 L976.4,2601.6 L976.4,2666.2 L981.2,2666.2 L981.2,2712.2 L986.0,2712.2 L986.0,2682.5 L987.7,2682.5 L987.7,2669.1 L987.7,2669.1 L987.7,2730.9 L993.8,2730.9 L993.8,2715.0 L1002.3,2715.0 L1002.3,2686.2 L1008.4,2686.2 L1008.4,2659.1 L1009.0,2659.1 L1009.0,2735.9 L1013.8,2735.9 L1013.8,2695.4 L1018.8,2695.4 L1018.8,2697.5 L1024.0,2697.5 L1024.0,2735.9 L1024.8,2735.9 L1024.8,2701.1 L1032.5,2701.1 L1032.5,2702.5 L1036.5,2702.5 L1036.5,2778.4 L1037.3,2778.4 L1037.3,2735.3 L1047.1,2735.3 L1047.1,2747.2 L1047.9,2747.2 L1047.9,2710.3 L1055.0,2710.3 L1055.0,2717.5 L1060.8,2717.5 L1060.8,2748.4 L1061.7,2748.4 L1061.7,2738.8 L1070.0,2738.8 L1070.0,2712.5 L1073.3,2712.5 L1073.3,2664.1 L1076.2,2664.1 L1076.2,2680.0 L1078.3,2680.0 L1078.3,2707.2 L1077.7,2707.2 L1077.7,2647.8 L1083.8,2647.8 L1083.8,2652.5 L1087.5,2652.5 L1087.5,2660.8 L1091.2,2660.8 L1091.2,2660.4 L1097.5,2660.4 L1097.5,2668.8 L1109.3,2668.8 L1109.3,2715.9 L1110.2,2715.9 L1110.2,2701.2 L1120.0,2701.2 L1120.0,2672.5 L1125.0,2672.5 L1125.0,2671.8 L1130.0,2671.8 L1130.0,2673.8 L1132.7,2673.8 L1132.7,2735.9 L1133.5,2735.9 L1133.5,2715.0 L1143.8,2715.0 L1143.8,2686.2 L1154.5,2686.2 L1154.5,2662.5 L1158.8,2662.5 L1158.8,2626.2 L1166.0,2626.2 L1166.0,2611.7 L1168.8,2611.7 L1168.8,2613.8 L1169.5,2613.8 L1169.5,2688.4 L1172.7,2688.4 L1172.7,2667.5 L1177.5,2667.5 L1177.5,2636.6 L1183.8,2636.6 L1183.8,2640.9 L1193.5,2640.9 L1193.5,2615.0 L1196.0,2615.0 L1196.0,2606.6 L1200.2,2606.6 L1200.2,2657.2 L1207.5,2657.2 L1207.5,2643.8 L1218.5,2643.8 L1218.5,2611.2 L1222.3,2611.2 L1222.3,2596.6 L1223.2,2596.6 L1223.2,2648.4 L1232.5,2648.4 L1232.5,2633.8 L1242.5,2633.8 L1242.5,2631.7 L1250.0,2631.7 L1250.0,2645.0 L1267.3,2645.0 L1267.3,2662.2 L1269.0,2662.2 L1269.0,2653.8 L1273.8,2653.8 L1273.8,2638.8 L1277.0,2638.8 L1277.0,2637.4 L1281.2,2637.4 L1281.2,2640.9 L1289.8,2640.9 L1289.8,2611.2 L1294.8,2611.2 L1294.8,2608.5 L1295.7,2608.5 L1295.7,2648.4 L1303.8,2648.4 L1303.8,2637.5 L1312.3,2637.5 L1312.3,2609.1 L1316.5,2609.1 L1316.5,2616.2 L1321.2,2616.2 L1321.2,2655.9 L1327.5,2655.9 L1327.5,2643.8 L1337.3,2643.8 L1337.3,2638.2 L1340.2,2638.2 L1340.2,2640.3 L1352.0,2640.3 L1352.0,2640.2 L1358.8,2640.2 L1358.8,2654.0 L1365.0,2654.0 L1365.0,2651.2 L1368.8,2651.2 L1368.8,2642.7 L1375.0,2642.7 L1375.0,2643.0 L1386.0,2643.0 L1386.0,2616.6 L1387.7,2616.6 L1387.7,2621.2 L1393.0,2621.2" fill="none" stroke="#F9520F" stroke-width="5.8" stroke-linejoin="miter" />
<path d="M1393.0,2888.8 L1401.2,2888.8 L1401.2,2858.8 L1404.5,2858.8 L1404.5,2835.0 L1411.0,2835.0 L1411.0,2826.2 L1413.5,2826.2 L1413.5,2819.1 L1416.5,2819.1 L1416.5,2860.9 L1422.5,2860.9 L1422.5,2851.1 L1428.8,2851.1 L1428.8,2851.4 L1443.3,2851.4 L1443.3,2850.0 L1444.2,2850.0 L1444.2,2852.5 L1453.8,2852.5 L1453.8,2856.2 L1466.1,2856.2 L1466.1,2875.2 L1466.9,2875.2 L1466.9,2872.5 L1472.5,2872.5 L1472.5,2868.8 L1479.5,2868.8 L1479.5,2843.8 L1486.0,2843.8 L1486.0,2817.8 L1487.7,2817.8 L1487.7,2855.9 L1493.8,2855.9 L1493.8,2850.0 L1504.8,2850.0 L1504.8,2837.8 L1510.2,2837.8 L1510.2,2858.4 L1518.8,2858.4 L1518.8,2852.5 L1549.5,2852.5 L1549.5,2809.1 L1554.8,2809.1 L1554.8,2832.2 L1556.5,2832.2 L1556.5,2808.8 L1563.8,2808.8 L1563.8,2792.8 L1571.2,2792.8 L1571.2,2801.2 L1577.3,2801.2 L1577.3,2822.2 L1580.2,2822.2 L1580.2,2815.3 L1586.0,2815.3 L1586.0,2862.2 L1587.2,2862.2 L1587.2,2846.2 L1597.5,2846.2 L1597.5,2840.4 L1602.5,2840.4 L1602.5,2842.5 L1609.6,2842.5 L1609.6,2857.2 L1610.4,2857.2 L1610.4,2852.5 L1631.2,2852.5 L1631.2,2825.0 L1636.8,2825.0 L1636.8,2797.5 L1641.2,2797.5 L1641.2,2770.0 L1646.2,2770.0 L1646.2,2741.2 L1650.8,2741.2 L1650.8,2712.8 L1661.2,2712.8 L1661.2,2713.4 L1671.0,2713.4 L1671.0,2683.8 L1676.2,2683.8 L1676.2,2682.4 L1677.2,2682.4 L1677.2,2735.9 L1685.0,2735.9 L1685.0,2718.8 L1696.0,2718.8 L1696.0,2706.6 L1697.7,2706.6 L1697.7,2708.4 L1719.3,2708.4 L1719.3,2677.5 L1724.7,2677.5 L1724.7,2645.0 L1723.0,2644.3 L1725.3,2644.3 L1725.3,2693.7 L1733.9,2693.7 L1733.9,2684.3 L1739.3,2684.3 L1739.3,2726.2 L1746.6,2726.2 L1746.6,2711.5 L1752.0,2711.5 L1752.0,2705.9 L1752.8,2705.9 L1752.8,2706.3 L1767.2,2706.3 L1767.2,2679.6 L1770.9,2679.6 L1770.9,2682.4 L1774.9,2682.4 L1774.9,2729.5 L1779.9,2729.5 L1779.9,2714.0 L1786.6,2714.0 L1786.6,2708.2 L1798.0,2708.2 L1798.0,2686.5 L1798.2,2686.5 L1798.2,2684.7 L1801.7,2684.7 L1801.7,2694.8 L1821.5,2694.8 L1821.5,2709.2 L1833.6,2709.2 L1833.6,2708.7 L1834.4,2708.7 L1834.4,2718.1 L1848.6,2718.1 L1848.6,2720.4 L1849.4,2720.4 L1849.4,2717.3 L1862.4,2717.3 L1862.4,2687.4 L1862.3,2687.4 L1862.3,2685.3 L1867.5,2685.3 L1867.5,2723.7 L1876.4,2723.7 L1876.4,2716.8 L1886.9,2716.8 L1886.9,2732.8 L1887.7,2732.8 L1887.7,2727.3 L1893.9,2727.3 L1893.9,2710.1 L1898.9,2710.1 L1898.9,2714.0 L1906.9,2714.0" fill="none" stroke="#F9520F" stroke-width="5.8" stroke-linejoin="miter" />
<line x1="1393" y1="2619" x2="1393" y2="2891" stroke="#F9520F" stroke-width="3.2"/>
<line x1="678.4" y1="1703.5" x2="678.4" y2="1772" stroke="#F9520F" stroke-width="3.2"/>
</g>
<rect x="995" y="1730" width="872.4000000000001" height="340.5" fill="#ffffff" stroke="#262626" stroke-width="5"/>
<line x1="1005.5" y1="1774" x2="1117.5" y2="1774" stroke="#0072BD" stroke-width="5" stroke-dasharray="21 21"/>
<text x="1123.5" y="1801" font-size="67.3" fill="#000000">Tablet weight SP</text>
<line x1="1005.5" y1="1857" x2="1117.5" y2="1857" stroke="#0072BD" stroke-width="5"/>
<text x="1123.5" y="1884" font-size="67.3" fill="#000000">Tablet weight</text>
<line x1="1005.5" y1="1941" x2="1117.5" y2="1941" stroke="#F9520F" stroke-width="5" stroke-dasharray="21 21"/>
<text x="1123.5" y="1967" font-size="67.3" fill="#000000">Tablet breaking force SP</text>
<line x1="1005.5" y1="2024" x2="1117.5" y2="2024" stroke="#F9520F" stroke-width="3"/>
<text x="1123.5" y="2051" font-size="67.3" fill="#000000">Tablet breaking force</text>
<text x="268.5" y="1760" font-size="66" fill="#000000">(c)</text>
<text x="1075.0" y="1621.0" font-size="74.4" text-anchor="middle" fill="#262626" >Time (s)</text>
<text x="1073.9" y="3242.2" font-size="74.4" text-anchor="middle" fill="#262626" >Time (s)</text>
<text x="81.0" y="743.1" font-size="73" text-anchor="middle" fill="#262626" transform="rotate(-90 81.0 743.1)" >Fill depth (mm)</text>
<text x="2117.0" y="742.6" font-size="66.75" text-anchor="middle" fill="#262626" transform="rotate(-90 2117.0 742.6)" >Main compression height (mm)</text>
<text x="81.0" y="2362.7" font-size="74.3" text-anchor="middle" fill="#262626" transform="rotate(-90 81.0 2362.7)" >Tablet weight (mg)</text>
<text x="2117.0" y="2364.5" font-size="67.1" text-anchor="middle" fill="#262626" transform="rotate(-90 2117.0 2364.5)" >Tablet breaking force (kN)</text>
</svg>
</body>
</html>
